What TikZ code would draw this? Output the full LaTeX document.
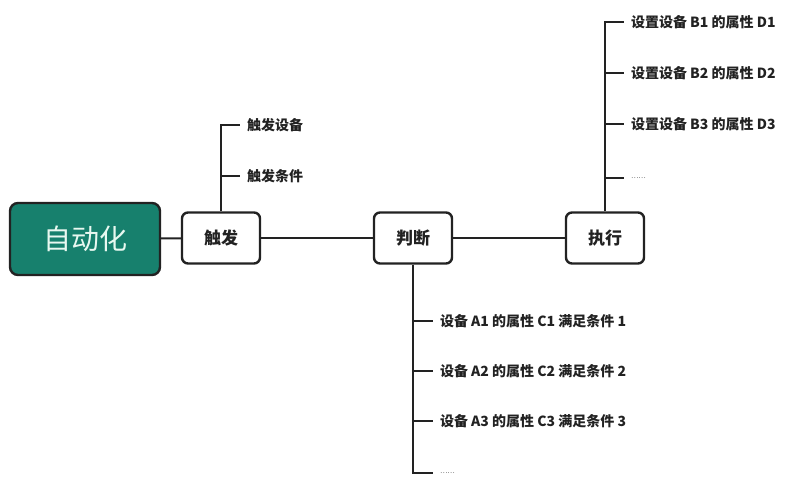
\documentclass[tikz,border=0pt]{standalone}
\usepackage{fontspec}
\usepackage{tikz}
\setmainfont{Noto Sans CJK SC}
\newfontfamily\cjk{Noto Sans CJK SC}
\definecolor{autoteal}{HTML}{17806D}
\definecolor{autotext}{HTML}{E8F8F0}
\definecolor{linegray}{HTML}{222222}

\begin{document}
\begin{tikzpicture}[x=1pt, y=-1pt, line width=2pt,
    stepbox/.style={draw=linegray, line width=2.4pt, rounded corners=6pt, fill=white,
        minimum width=78pt, minimum height=51pt, text=linegray,
        font=\cjk\bfseries\fontsize{17}{20}\selectfont},
    leaf/.style={anchor=west, inner xsep=6pt, inner ysep=0pt, text=linegray,
        font=\cjk\bfseries\fontsize{14}{16}\selectfont}]
    \useasboundingbox (0,0) rectangle (787,492);

    \node[draw=linegray, line width=2.4pt, rounded corners=8pt, fill=autoteal,
        minimum width=150pt, minimum height=72pt, text=autotext,
        font=\cjk\fontsize{28}{32}\selectfont] at (85, 239) (auto) {自动化};
    \node[stepbox] at (221, 238) (fa) {触发};
    \node[stepbox] at (413, 238) (pd) {判断};
    \node[stepbox] at (605, 238) (zx) {执行};

    \draw[linegray] (auto) -- (fa);
    \draw[linegray] (fa) -- (pd);
    \draw[linegray] (pd) -- (zx);

    % trigger
    \node[leaf] at (240, 125) (fa1) {触发设备};
    \node[leaf] at (240, 176) (fa2) {触发条件};
    \draw[linegray] (fa.north) |- (fa1.west);
    \draw[linegray] (fa.north |- fa2.west) -- (fa2.west);

    % judge
    \node[leaf] at (433, 321) (pd1) {设备 A1 的属性 C1 满足条件 1};
    \node[leaf] at (433, 371) (pd2) {设备 A2 的属性 C2 满足条件 2};
    \node[leaf] at (433, 421) (pd3) {设备 A3 的属性 C3 满足条件 3};
    \node[leaf, font=\cjk\fontsize{7}{8}\selectfont] at (433, 473) (pd4) {……};
    \draw[linegray] (pd.south) |- (pd4.west);
    \foreach \n in {pd1, pd2, pd3}
        \draw[linegray] (pd.south |- \n.west) -- (\n.west);

    % execute
    \node[leaf] at (624, 22) (zx1) {设置设备 B1 的属性 D1};
    \node[leaf] at (624, 73) (zx2) {设置设备 B2 的属性 D2};
    \node[leaf] at (624, 124) (zx3) {设置设备 B3 的属性 D3};
    \node[leaf, font=\cjk\fontsize{7}{8}\selectfont] at (624, 178) (zx4) {……};
    \draw[linegray] (zx.north) |- (zx1.west);
    \foreach \n in {zx2, zx3, zx4}
        \draw[linegray] (zx.north |- \n.west) -- (\n.west);
\end{tikzpicture}
\end{document}
